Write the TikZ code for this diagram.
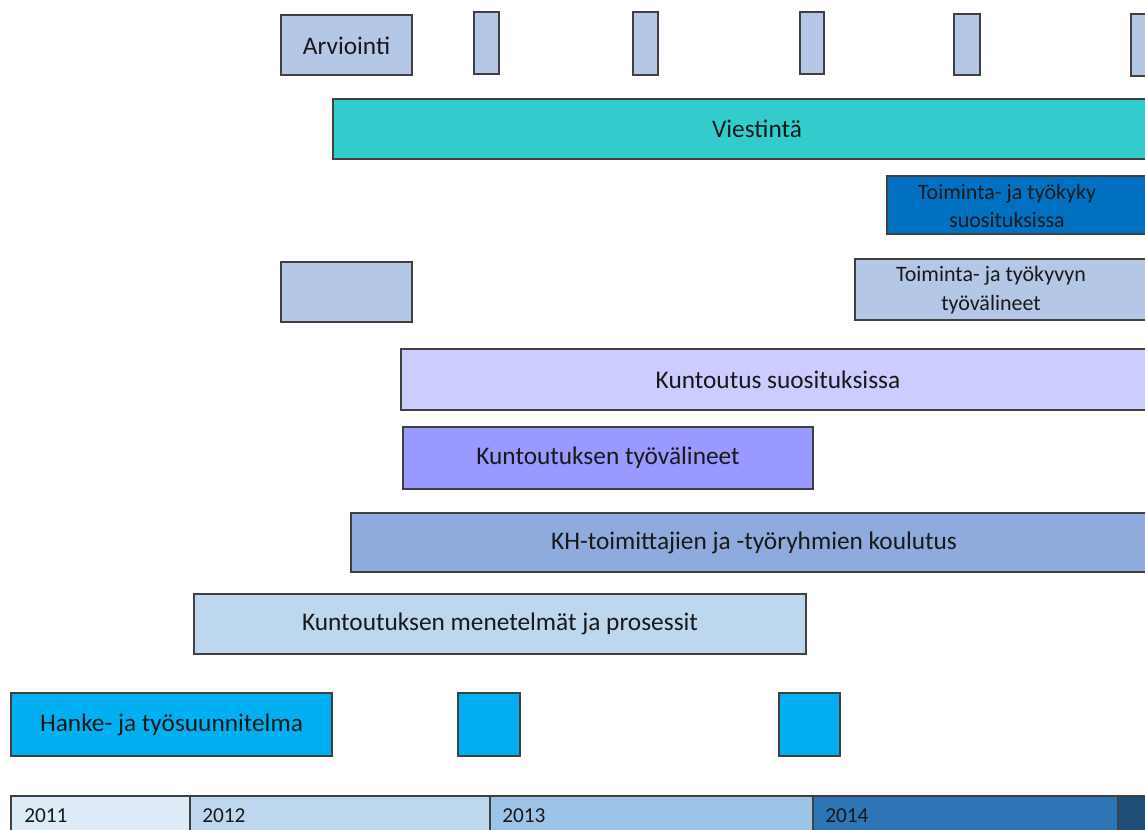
\documentclass[tikz,border=0pt]{standalone}
\usepackage{fontspec}
\setmainfont{Carlito}
\definecolor{lblue}{HTML}{B4C7E7}
\definecolor{teal}{HTML}{33CCCC}
\definecolor{dblue}{HTML}{0070C0}
\definecolor{lilac}{HTML}{CCCCFF}
\definecolor{violet}{HTML}{9999FF}
\definecolor{mblue}{HTML}{8FAADC}
\definecolor{pblue}{HTML}{BDD7EE}
\definecolor{cyanb}{HTML}{00B0F0}
\definecolor{y11}{HTML}{DEEBF7}
\definecolor{y12}{HTML}{BDD7EE}
\definecolor{y13}{HTML}{9DC3E6}
\definecolor{y14}{HTML}{2E75B6}
\definecolor{y15}{HTML}{1F4E79}
\definecolor{edge}{HTML}{404040}
\tikzset{
  bar/.style={draw=edge, line width=0.9pt},
  lbl/.style={font=\fontsize{19}{21}\selectfont, text=black!90, align=center, inner sep=0pt},
  lbltwo/.style={font=\fontsize{16.5}{21.5}\selectfont, text=black!90, align=center, inner sep=0pt},
  yr/.style={font=\fontsize{16}{18}\selectfont, text=black!90, anchor=base west, inner sep=0pt}
}
\begin{document}
\begin{tikzpicture}[x=0.75pt,y=-0.75pt]
\useasboundingbox (0,0) rectangle (1145,830);
\clip (0,0) rectangle (1145,830);
% top row
\path[bar, fill=lblue] (281,15) rectangle (412,75);
\node[lbl] (arv) at (346.5,46) {Arviointi};
\path[bar, fill=lblue] (474,12) rectangle (499,74);
\path[bar, fill=lblue] (633,12) rectangle (658,75);
\path[bar, fill=lblue] (800,12) rectangle (824,74);
\path[bar, fill=lblue] (954,14) rectangle (980,75);
\path[bar, fill=lblue] (1131,14) rectangle (1160,76);
% Viestinta
\path[bar, fill=teal] (333,99) rectangle (1160,159);
\node[lbl] (viest) at (757,129) {Viestintä};
% Toiminta- ja tyokyky
\path[bar, fill=dblue] (887,176) rectangle (1160,234);
\node[lbltwo] (tks) at (1007,206) {Toiminta- ja työkyky\\suosituksissa};
% blank + tyovalineet
\path[bar, fill=lblue] (281,262) rectangle (412,322);
\path[bar, fill=lblue] (855,259) rectangle (1160,320);
\node[lbltwo] (ttv) at (991,290) {Toiminta- ja työkyvyn\\työvälineet};
% Kuntoutus suosituksissa
\path[bar, fill=lilac] (401,349) rectangle (1160,410);
\node[lbl] (ks) at (778,380) {Kuntoutus suosituksissa};
% Kuntoutuksen tyovalineet
\path[bar, fill=violet] (403,427) rectangle (813,489);
\node[lbl] (ktv) at (608,458) {Kuntoutuksen työvälineet};
% KH
\path[bar, fill=mblue] (351,513) rectangle (1160,572);
\node[lbl] (kh) at (754,543) {KH-toimittajien ja -työryhmien koulutus};
% menetelmat
\path[bar, fill=pblue] (194,594) rectangle (806,654);
\node[lbl] (kmp) at (500,624) {Kuntoutuksen menetelmät ja prosessit};
% Hanke
\path[bar, fill=cyanb] (11,693) rectangle (332,756);
\node[lbl] (hanke) at (171.5,725) {Hanke- ja työsuunnitelma};
\path[bar, fill=cyanb] (458,693) rectangle (520,756);
\path[bar, fill=cyanb] (779,693) rectangle (840,756);
% timeline
\path[bar, fill=y11] (11,796) rectangle (190,840);
\path[bar, fill=y12] (190,796) rectangle (490,840);
\path[bar, fill=y13] (490,796) rectangle (813,840);
\path[bar, fill=y14] (813,796) rectangle (1118,840);
\path[bar, fill=y15] (1118,796) rectangle (1160,840);
\node[yr] (y2011) at (24,822) {2011};
\node[yr] (y2012) at (202,822) {2012};
\node[yr] (y2013) at (502,822) {2013};
\node[yr] (y2014) at (825,822) {2014};
\end{tikzpicture}
\end{document}
